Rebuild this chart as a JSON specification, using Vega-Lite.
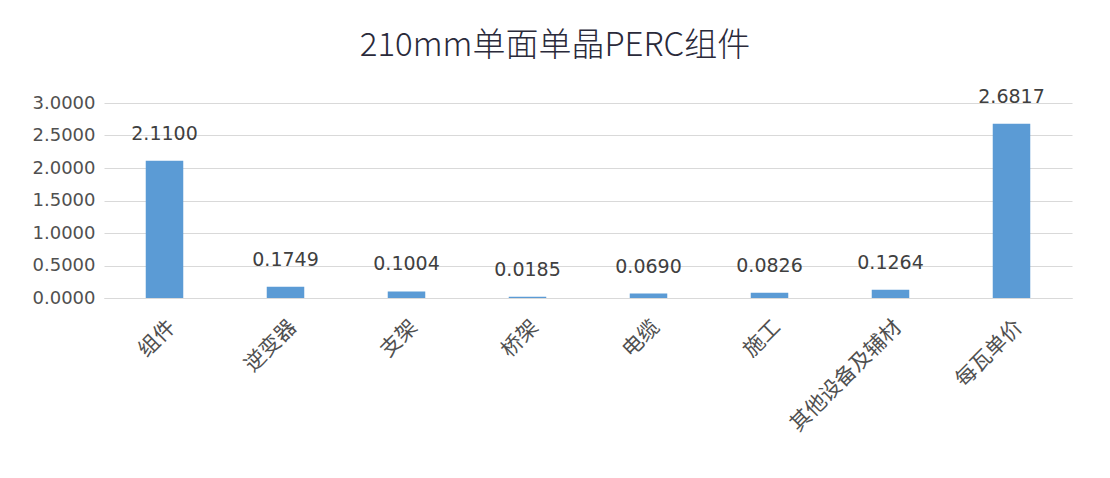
{
  "$schema": "https://vega.github.io/schema/vega-lite/v6.json",
  "autosize": {"type": "none"},
  "width": 968,
  "height": 195,
  "padding": {"left": 104, "top": 103, "right": 38, "bottom": 180},
  "background": "white",
  "title": {
    "text": "210mm单面单晶PERC组件",
    "font": "Noto Sans CJK SC",
    "fontSize": 33,
    "fontWeight": 300,
    "color": "#2a2a3a",
    "anchor": "middle",
    "dx": -33,
    "offset": 25
  },
  "data": {
    "values": [
      {"item": "组件", "value": 2.11},
      {"item": "逆变器", "value": 0.1749},
      {"item": "支架", "value": 0.1004},
      {"item": "桥架", "value": 0.0185},
      {"item": "电缆", "value": 0.069},
      {"item": "施工", "value": 0.0826},
      {"item": "其他设备及辅材", "value": 0.1264},
      {"item": "每瓦单价", "value": 2.6817}
    ]
  },
  "encoding": {
    "x": {
      "field": "item",
      "type": "nominal",
      "sort": null,
      "scale": {"paddingInner": 0.69, "paddingOuter": 0.345},
      "axis": {
        "title": null,
        "labelAngle": -45,
        "labelFont": "Noto Sans CJK SC",
        "labelFontSize": 21,
        "labelColor": "#505050",
        "labelPadding": 18,
        "ticks": false,
        "domainColor": "#d9d9d9",
        "grid": false
      }
    },
    "y": {
      "field": "value",
      "type": "quantitative",
      "scale": {"domain": [0, 3]},
      "axis": {
        "title": null,
        "values": [0, 0.5, 1, 1.5, 2, 2.5, 3],
        "format": ".4f",
        "labelFont": "DejaVu Sans",
        "labelFontSize": 18,
        "labelColor": "#505050",
        "labelPadding": 9,
        "ticks": false,
        "domain": false,
        "gridColor": "#d9d9d9"
      }
    }
  },
  "layer": [
    {"mark": {"type": "bar", "color": "#5B9BD5"}},
    {
      "mark": {
        "type": "text",
        "baseline": "bottom",
        "dy": -17,
        "font": "DejaVu Sans",
        "fontSize": 19,
        "color": "#404040"
      },
      "encoding": {"text": {"field": "value", "type": "quantitative", "format": ".4f"}}
    }
  ],
  "config": {"view": {"stroke": null}}
}
